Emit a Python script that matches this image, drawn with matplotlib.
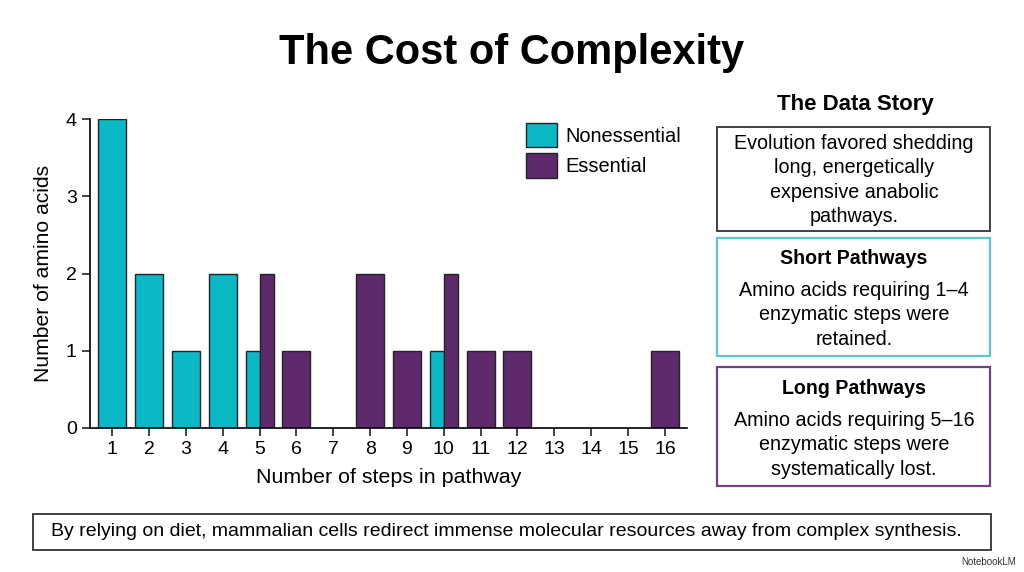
import matplotlib
matplotlib.use("Agg")
import matplotlib.pyplot as plt
from matplotlib.patches import Rectangle
import numpy as np

plt.rcParams['font.family'] = ['Liberation Sans', 'DejaVu Sans']

steps = list(range(1, 17))
nonessential = [4, 2, 1, 2, 1, 0, 0, 0, 0, 1, 0, 0, 0, 0, 0, 0]
essential = [0, 0, 0, 0, 2, 1, 0, 2, 1, 2, 1, 1, 0, 0, 0, 1]

cyan = '#0BB9C6'
purple = '#5F2A6C'

W, H = 1024, 572
fig = plt.figure(figsize=(W / 100, H / 100), dpi=100)
fig.patch.set_facecolor('white')


def fx(px):
    return px / W


def fy(py):
    return 1 - py / H


# main bar chart
ax = fig.add_axes([fx(90), fy(428), fx(687) - fx(90), fy(119) - fy(428)])
width = 0.76
for s, n, e in zip(steps, nonessential, essential):
    if n and e:
        ax.bar(s - width / 4, n, width / 2, color=cyan, edgecolor='#222222', linewidth=1)
        ax.bar(s + width / 4, e, width / 2, color=purple, edgecolor='#222222', linewidth=1)
    elif n:
        ax.bar(s, n, width, color=cyan, edgecolor='#222222', linewidth=1)
    elif e:
        ax.bar(s, e, width, color=purple, edgecolor='#222222', linewidth=1)

ax.set_xlim(0.4, 16.6)
ax.set_ylim(0, 4)
ax.set_xticks(steps)
ax.set_yticks([0, 1, 2, 3, 4])
ax.tick_params(labelsize=14, length=6, width=1.2, color='#222222')
ax.spines['top'].set_visible(False)
ax.spines['right'].set_visible(False)
ax.spines['left'].set_linewidth(1.2)
ax.spines['bottom'].set_linewidth(1.2)
ax.set_xlabel('Number of steps in pathway', fontsize=15.4, labelpad=7)
ax.set_ylabel('Number of amino acids', fontsize=15.2, labelpad=9)

handles = [Rectangle((0, 0), 1, 1, facecolor=cyan, edgecolor='#222222'),
           Rectangle((0, 0), 1, 1, facecolor=purple, edgecolor='#222222')]
ax.legend(handles, ['Nonessential', 'Essential'], loc='upper left',
          bbox_to_anchor=(0.7, 1.045), frameon=False, fontsize=14.4,
          handlelength=1.55, handleheight=1.5, handletextpad=0.4, labelspacing=0.3)

# title
fig.text(0.5, fy(53), 'The Cost of Complexity', ha='center', va='center',
         fontsize=30, fontweight='bold')

# right panel
fig.text(fx(855), fy(104), 'The Data Story', ha='center', va='center',
         fontsize=16, fontweight='bold')


def box(x0, y0, x1, y1, edge, lw=1.3):
    fig.add_artist(Rectangle((fx(x0), fy(y1)), fx(x1) - fx(x0), fy(y0) - fy(y1),
                             transform=fig.transFigure, facecolor='white',
                             edgecolor=edge, linewidth=lw))


body = dict(ha='center', va='center', fontsize=14.2, linespacing=1.36)

box(717, 127, 990, 231, '#333333')
fig.text(fx(854), fy(180), 'Evolution favored shedding\nlong, energetically\nexpensive anabolic\npathways.', **body)

box(717, 238, 990, 356, '#5CC6CE', lw=1.6)
fig.text(fx(854), fy(258), 'Short Pathways', ha='center', va='center',
         fontsize=14.1, fontweight='bold')
fig.text(fx(854), fy(315), 'Amino acids requiring 1\u20134\nenzymatic steps were\nretained.', **body)

box(717, 367, 990, 486, '#6E4480', lw=1.6)
fig.text(fx(854), fy(388), 'Long Pathways', ha='center', va='center',
         fontsize=14.1, fontweight='bold')
fig.text(fx(854), fy(445), 'Amino acids requiring 5\u201316\nenzymatic steps were\nsystematically lost.', **body)

# bottom takeaway
box(33, 514, 991, 550, '#333333')
fig.text(fx(506), fy(532), 'By relying on diet, mammalian cells redirect immense molecular resources away from complex synthesis.',
         ha='center', va='center', fontsize=14.0)

fig.text(fx(1016), fy(562), 'NotebookLM', ha='right', va='center', fontsize=7, color='#333333')

fig.savefig('out.png', dpi=100)
